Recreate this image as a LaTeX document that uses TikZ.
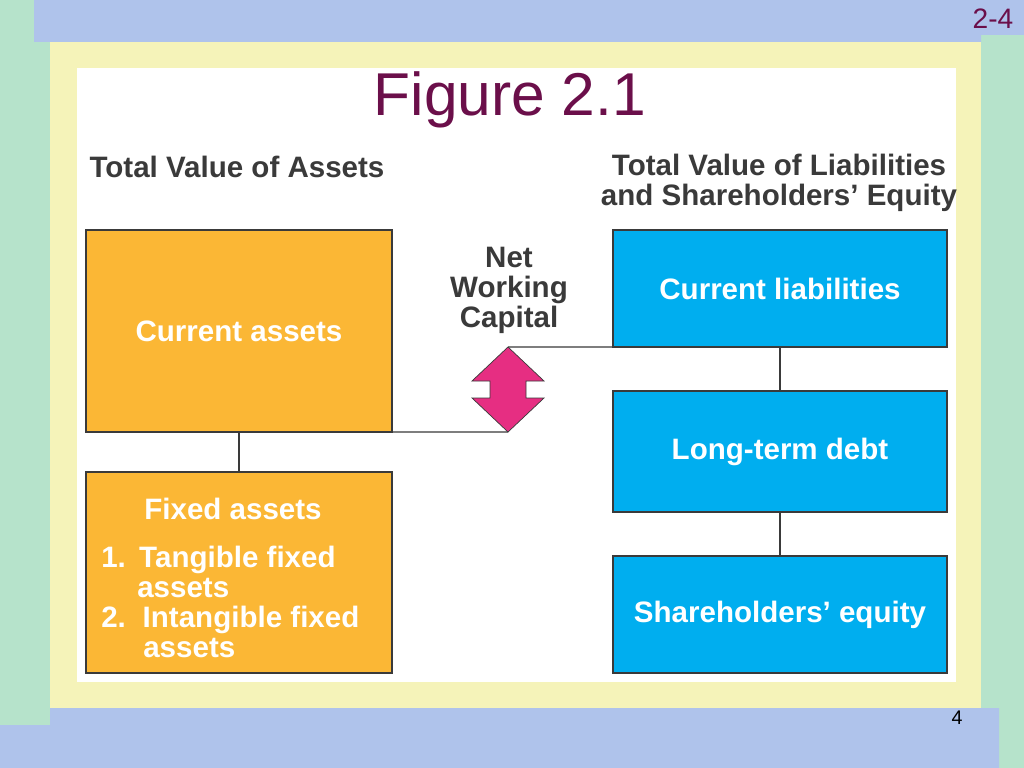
\documentclass[tikz,border=0pt]{standalone}
\usepackage{fontspec}
\setmainfont{Liberation Sans}
\definecolor{bggreen}{HTML}{B6E3CB}
\definecolor{bandblue}{HTML}{AFC3EB}
\definecolor{frameyellow}{HTML}{F5F3B9}
\definecolor{titlered}{HTML}{6B0F4A}
\definecolor{assetorange}{HTML}{FBB735}
\definecolor{debtblue}{HTML}{00AEEF}
\definecolor{nwcpink}{HTML}{E62E82}
\definecolor{inkgray}{HTML}{3A3A3A}
\begin{document}
\begin{tikzpicture}[x=0.025cm,y=-0.025cm,
  assetbox/.style={draw=inkgray,line width=0.9pt,fill=assetorange,inner sep=0pt,outer sep=0pt,
    minimum width=7.65cm,text=white,font=\bfseries\fontsize{21}{21.3}\selectfont},
  claimbox/.style={assetbox,fill=debtblue,minimum width=8.35cm},
  heading/.style={text=inkgray,font=\bfseries\fontsize{21}{21.3}\selectfont,inner sep=0pt},
  link/.style={draw=inkgray,line width=1pt}]
  % slide background
  \fill[bggreen] (0,0) rectangle (1024,768);
  \fill[bandblue] (34,0) -- (1024,0) -- (1024,35) -- (981,35) -- (981,42) -- (34,42) -- cycle;
  \fill[bandblue] (50,708) -- (999,708) -- (999,768) -- (0,768) -- (0,725) -- (50,725) -- cycle;
  \fill[frameyellow] (50,42) rectangle (981,708);
  \fill[white] (77,68) rectangle (956,682);
  \node[text=titlered,font=\fontsize{20}{24}\selectfont] (slideno) at (993,19) {2-4};
  \node[font=\fontsize{14}{16}\selectfont] (pageno) at (957,718) {4};
  \node[text=titlered,font=\fontsize{43}{50}\selectfont] (title) at (510,100) {Figure 2.1};
  % headings
  \node[heading] (lefthead) at (237,167) {Total Value of Assets};
  \node[heading,align=center] (righthead) at (779,183) {Total Value of Liabilities\\and Shareholders’ Equity};
  % balance sheet boxes
  \node[assetbox,minimum height=5.05cm] (ca) at (239,331) {Current assets};
  \node[assetbox,minimum height=5.025cm] (fa) at (239,572.5) {};
  \node[heading,text=white] (fahead) at (233,509) {Fixed assets};
  \node[heading,text=white,align=left,anchor=north west] (falist) at (101,546)
    {\makebox[27pt][l]{1.}Tangible fixed\\\hspace*{25.6pt}assets\\
     \makebox[29.5pt][l]{2.}Intangible fixed\\\hspace*{29.9pt}assets};
  \node[claimbox,minimum height=2.925cm] (cl) at (780,288.5) {Current liabilities};
  \node[claimbox,minimum height=3.025cm] (ltd) at (780,451.5) {Long-term debt};
  \node[claimbox,minimum height=2.925cm] (se) at (780,614.5) {Shareholders’ equity};
  % net working capital
  \node[heading,align=center] (nwc) at (509,290) {Net\\Working\\Capital};
  \coordinate (nwctop) at (508,347);
  \coordinate (nwcbot) at (508,432);
  \filldraw[fill=nwcpink,draw=inkgray,line width=0.5pt] (nwctop) -- (544,381) -- (526,381) -- (526,398)
    -- (544,398) -- (nwcbot) -- (472,398) -- (490,398) -- (490,381) -- (472,381) -- cycle;
  % connectors
  \draw[link] (ca.south) -- (fa.north);
  \draw[link] (ca.south east) -- (nwcbot);
  \draw[link] (nwctop) -- (cl.south west);
  \draw[link] (cl.south) -- (ltd.north);
  \draw[link] (ltd.south) -- (se.north);
\end{tikzpicture}
\end{document}
